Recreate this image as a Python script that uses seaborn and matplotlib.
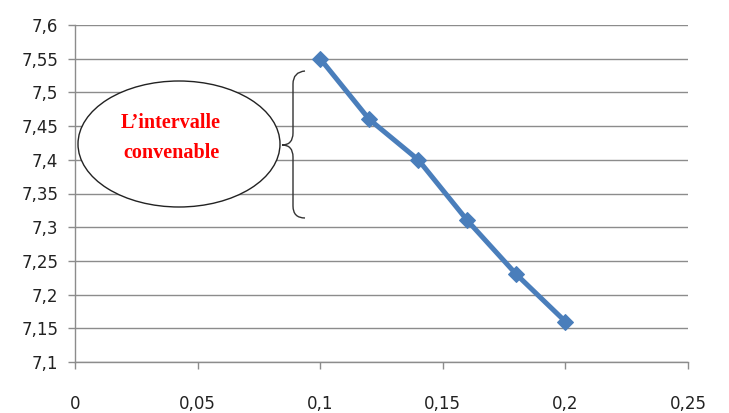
import numpy as np
import pandas as pd
import matplotlib
matplotlib.use("Agg")
import matplotlib.pyplot as plt
import seaborn as sns
from matplotlib.patches import Ellipse, PathPatch
from matplotlib.path import Path

x_vals = [0.1, 0.12, 0.14, 0.16, 0.18, 0.2]
y_vals = [7.55, 7.46, 7.40, 7.31, 7.23, 7.16]
x_ticks = [0, 0.05, 0.1, 0.15, 0.2, 0.25]
x_tick_labels = ["0", "0,05", "0,1", "0,15", "0,2", "0,25"]
y_ticks = [7.1, 7.15, 7.2, 7.25, 7.3, 7.35, 7.4, 7.45, 7.5, 7.55, 7.6]
y_tick_labels = ["7,1", "7,15", "7,2", "7,25", "7,3", "7,35", "7,4", "7,45", "7,5", "7,55", "7,6"]
annotation = "L\u2019intervalle\nconvenable"

sns.set_style("white")
plt.rcParams['font.family'] = ['DejaVu Sans']

fig = plt.figure(figsize=(7.29, 4.13), dpi=100)
ax = fig.add_axes([75/729, 1-362/413, (688-75)/729, (362-25)/413])

df = pd.DataFrame({"x": x_vals, "y": y_vals})
sns.lineplot(data=df, x="x", y="y", ax=ax, color="#4A7EBB", linewidth=3.6,
             marker="D", markersize=8, markeredgecolor="#4A7EBB", zorder=5)

ax.set_xlim(0, 0.25)
ax.set_ylim(7.1, 7.6)
ax.set_xticks(x_ticks)
ax.set_xticklabels(x_tick_labels)
ax.set_yticks(y_ticks)
ax.set_yticklabels(y_tick_labels)
ax.set_xlabel("")
ax.set_ylabel("")

ax.yaxis.grid(True, color="#8c8c8c", linewidth=1)
ax.xaxis.grid(False)
for s in ["top", "right"]:
    ax.spines[s].set_visible(False)
for s in ["left", "bottom"]:
    ax.spines[s].set_color("#8c8c8c")
    ax.spines[s].set_linewidth(1)
ax.tick_params(axis="x", bottom=True, length=5, width=1, color="#8c8c8c", pad=19,
               labelsize=12, labelcolor="#222222", direction="out")
ax.tick_params(axis="y", left=True, length=5, width=1, color="#8c8c8c", pad=7,
               labelsize=12, labelcolor="#222222", direction="out")

def px2d(px, py):
    return (px - 75) / 2452.0, 7.6 - (py - 25) / 674.0

cx, cy = px2d(179, 144)
ell = Ellipse((cx, cy), width=202/2452.0, height=126/674.0, facecolor="white",
              edgecolor="#222222", linewidth=1, zorder=6)
ax.add_patch(ell)
tx, ty = px2d(171, 138)
ax.text(tx, ty, annotation, color="red", fontsize=14.5, fontweight="bold",
        family="Liberation Serif", ha="center", va="center", zorder=7, linespacing=1.6)

pts_px = [(305, 71), (293, 72), (293, 84), (293, 133), (293, 145), (282, 145),
          (293, 145), (293, 157), (293, 206), (293, 218), (305, 218)]
codes = [Path.MOVETO, Path.CURVE3, Path.CURVE3, Path.LINETO, Path.CURVE3, Path.CURVE3,
         Path.CURVE3, Path.CURVE3, Path.LINETO, Path.CURVE3, Path.CURVE3]
verts = [px2d(*p) for p in pts_px]
ax.add_patch(PathPatch(Path(verts, codes), facecolor="none", edgecolor="#333333",
                       linewidth=1, zorder=6))

fig.savefig("out.png", dpi=100)
